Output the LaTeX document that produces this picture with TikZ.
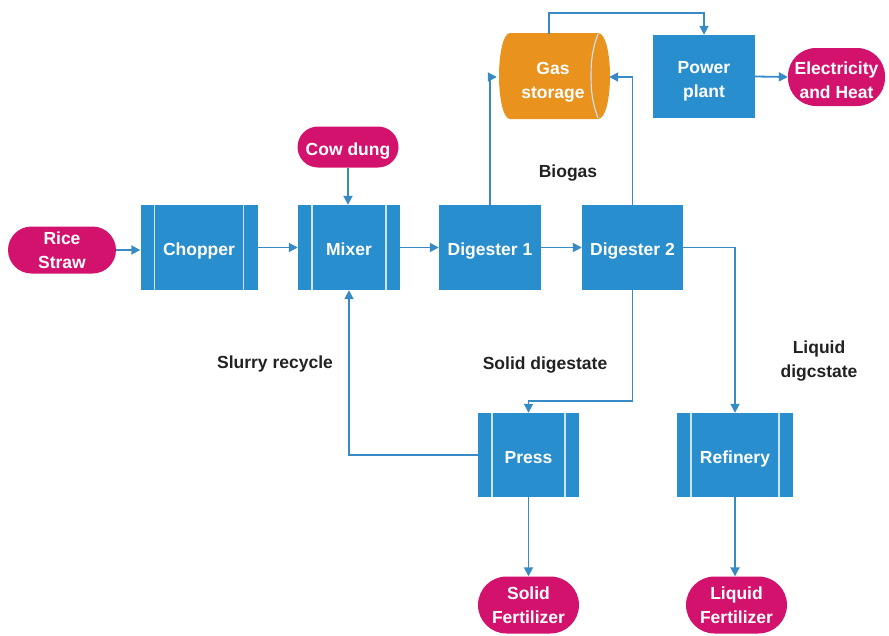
\documentclass[tikz,border=0pt]{standalone}
\usepackage{fontspec}
\setmainfont{Liberation Sans}
\usetikzlibrary{arrows.meta,shapes.misc}
\definecolor{boxblue}{RGB}{40,142,205}
\definecolor{lineblue}{RGB}{55,138,195}
\definecolor{pillred}{RGB}{210,18,108}
\definecolor{gasorange}{RGB}{233,146,30}
\definecolor{stripe}{RGB}{205,228,246}
\definecolor{labeltext}{RGB}{34,34,34}
\begin{document}
\begin{tikzpicture}[x=1pt,y=-1pt,
  every node/.style={font=\fontsize{17.5}{24}\selectfont\bfseries, align=center, inner sep=0pt},
  one/.style={text height=16pt, text depth=0pt},
  two/.style={text height=36.5pt, text depth=0pt},
  twolow/.style={text height=42pt, text depth=0pt},
  procbox/.style={fill=boxblue, text=white, minimum width=#1, minimum height=85pt},
  procbox/.default=102pt,
  striped/.style={path picture={
      \draw[stripe, line width=1.1pt]
        ([xshift=14pt]path picture bounding box.north west) -- ([xshift=14pt]path picture bounding box.south west)
        ([xshift=-14pt]path picture bounding box.north east) -- ([xshift=-14pt]path picture bounding box.south east);}},
  pill/.style={rounded rectangle, fill=pillred, text=white},
  lbl/.style={text=labeltext},
  conn/.style={draw=lineblue, line width=1.8pt, -{Triangle[length=9pt,width=9pt]}}
]
\useasboundingbox (0,0) rectangle (889,635);

% process boxes
\node[procbox=117pt, striped, one] (chopper) at (199,247.5) {Chopper};
\node[procbox, striped, one] (mixer) at (349,247.5) {Mixer};
\node[procbox, one] (dig1) at (490,247.5) {Digester 1};
\node[procbox=101pt, one] (dig2) at (632.5,247.5) {Digester 2};
\node[procbox, minimum height=83pt, twolow] (power) at (704,76.5) {Power\\plant};
\node[procbox=101pt, minimum height=84pt, striped, one] (press) at (528.5,455) {Press};
\node[procbox=116pt, minimum height=84pt, striped, one] (refinery) at (735,455) {Refinery};

% gas storage
\fill[gasorange] (510,33) -- (598,33) .. controls (606,33) and (610,55) .. (610,76)
  .. controls (610,97) and (606,119) .. (598,119) -- (510,119)
  .. controls (503,119) and (499,97) .. (499,76) .. controls (499,55) and (503,33) .. (510,33) -- cycle;
\draw[stripe, line width=1.1pt] (598,34) .. controls (592,50) and (591,62) .. (591,76)
  .. controls (591,90) and (592,102) .. (598,118);
\node[minimum width=110pt, minimum height=86pt, text=white, twolow] (gas) at (553,77) {Gas\\storage};

% terminals
\node[pill, minimum width=108pt, minimum height=47pt, two] (rice) at (62,250) {Rice\\Straw};
\node[pill, minimum width=101pt, minimum height=41pt, one] (cow) at (348,147) {Cow dung};
\node[rectangle, rounded corners=28pt, fill=pillred, text=white, minimum width=97pt, minimum height=58pt, twolow] (elec) at (836.5,77) {Electricity\\and Heat};
\node[pill, minimum width=101pt, minimum height=57pt, two] (solid) at (528.5,605) {Solid\\Fertilizer};
\node[pill, minimum width=101pt, minimum height=57pt, two] (liquid) at (736.5,605) {Liquid\\Fertilizer};

% labels
\node[lbl, one] (lbiogas) at (568,169) {Biogas};
\node[lbl, one] (lslurry) at (275,360) {Slurry recycle};
\node[lbl, one] (lsolid) at (545,361) {Solid digestate};
\node[lbl, two] (lliquid) at (819,359) {Liquid\\digcstate};

% connectors
\draw[conn] (rice.east) -- (chopper.west |- rice.east);
\draw[conn] (chopper.east) -- (mixer.west);
\draw[conn] (mixer.east) -- (dig1.west);
\draw[conn] (dig1.east) -- (dig2.west);
\draw[conn] (cow.south) -- (mixer.north -| cow.south);
\draw[conn] (dig1.north) |- ([xshift=-1pt]gas.west);
\draw[conn] (dig2.north) |- ([xshift=1pt]gas.east);
\draw[conn] ([xshift=-4pt]gas.north) -- ++(0,-21) -| (power.north);
\draw[conn] (power.east) -- (elec.west);
\draw[conn] (dig2.south) -- ++(0,111) -| (press.north);
\draw[conn] (dig2.east) -| (refinery.north);
\draw[conn] (press.west) -| (mixer.south);
\draw[conn] (press.south) -- (solid.north);
\draw[conn] (refinery.south) -- (liquid.north -| refinery.south);
\end{tikzpicture}
\end{document}
